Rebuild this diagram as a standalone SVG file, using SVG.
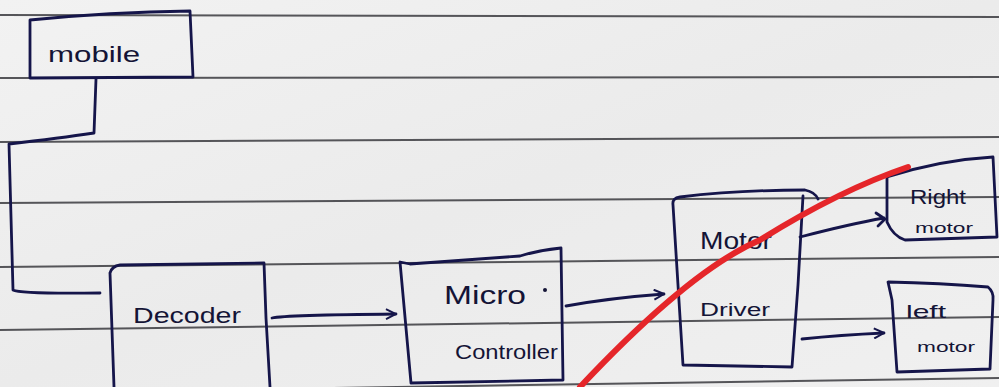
<svg xmlns="http://www.w3.org/2000/svg" width="999" height="387" viewBox="0 0 999 387">
  <style>
    .rule { stroke: #3a3a3e; stroke-width: 2; fill: none; opacity: 0.85; }
    .ink { stroke: #15154a; stroke-width: 2.8; fill: none; stroke-linecap: round; stroke-linejoin: round; }
    .label { font-family: "Liberation Sans", "DejaVu Sans", sans-serif; fill: #141436; }
    .red { stroke: #e5262a; stroke-width: 6; fill: none; stroke-linecap: round; }
  </style>
  <defs>
    <linearGradient id="paper" x1="0" y1="0" x2="1" y2="1">
      <stop offset="0" stop-color="#f2f2f2"/>
      <stop offset="0.5" stop-color="#ebebeb"/>
      <stop offset="1" stop-color="#f0f0f0"/>
    </linearGradient>
    <marker id="open" viewBox="0 0 12 12" refX="11" refY="6" markerWidth="12" markerHeight="12" markerUnits="userSpaceOnUse" orient="auto">
      <path d="M1,1 L11,6 L1,11" fill="none" stroke="#15154a" stroke-width="2"/>
    </marker>
  </defs>

  <!-- paper and ruled lines -->
  <rect width="999" height="387" fill="url(#paper)"/>
  <g id="rules">
    <path class="rule" d="M0,15 L999,17"/>
    <path class="rule" d="M0,78 L999,77"/>
    <path class="rule" d="M0,142 L999,137"/>
    <path class="rule" d="M0,203 L999,197"/>
    <path class="rule" d="M0,267 L999,257"/>
    <path class="rule" d="M0,330 L999,317"/>
    <path class="rule" d="M0,393 L999,378"/>
  </g>

  <!-- blocks -->
  <g id="mobile">
    <path class="ink" d="M30,20 Q110,12 190,11 L193,77 L30,78 Z"/>
    <text class="label" x="48" y="62" font-size="22" textLength="92" lengthAdjust="spacingAndGlyphs">mobile</text>
  </g>

  <g id="decoder">
    <path class="ink" d="M110,273 Q112,266 120,265 L264,263 L266,318 L270,387 M114,387 L110,273"/>
    <text class="label" x="133" y="323" font-size="22" textLength="108" lengthAdjust="spacingAndGlyphs">Decoder</text>
  </g>

  <g id="microcontroller">
    <path class="ink" d="M410,264 L520,256 Q540,250 561,248 L563,380 L411,383 L400,262 Z"/>
    <text class="label" x="444" y="304" font-size="25" textLength="82" lengthAdjust="spacingAndGlyphs">Micro</text>
    <circle cx="545" cy="290" r="2" fill="#141436"/>
    <text class="label" x="455" y="359" font-size="21" textLength="103" lengthAdjust="spacingAndGlyphs">Controller</text>
  </g>

  <g id="motor-driver">
    <path class="ink" d="M680,197 Q740,190 805,190 Q815,192 818,199 M803,196 L798,285 L792,367 L683,365 L673,205 Q672,198 680,197"/>
    <text class="label" x="700" y="249" font-size="24" textLength="72" lengthAdjust="spacingAndGlyphs">Motor</text>
    <text class="label" x="700" y="316" font-size="18" textLength="70" lengthAdjust="spacingAndGlyphs">Driver</text>
  </g>

  <g id="right-motor">
    <path class="ink" d="M887,177 Q940,160 993,157 L997,237 L905,240 Q893,236 887,222 Z"/>
    <text class="label" x="910" y="204" font-size="20" textLength="56" lengthAdjust="spacingAndGlyphs">Right</text>
    <text class="label" x="915" y="233" font-size="15" textLength="58" lengthAdjust="spacingAndGlyphs">motor</text>
  </g>

  <g id="left-motor">
    <path class="ink" d="M888,282 Q940,283 988,287 Q994,292 993,300 L990,369 L897,372 L892,300 Z"/>
    <text class="label" x="906" y="318" font-size="19" textLength="40" lengthAdjust="spacingAndGlyphs">left</text>
    <text class="label" x="917" y="352" font-size="15" textLength="58" lengthAdjust="spacingAndGlyphs">motor</text>
  </g>

  <!-- connectors -->
  <g id="connectors">
    <path class="ink" d="M96,79 L94,133 Q60,138 9,144 L13,290 Q20,294 100,293"/>
    <path class="ink" d="M272,318 Q285,315 396,314" marker-end="url(#open)"/>
    <path class="ink" d="M566,306 Q610,298 664,294" marker-end="url(#open)"/>
    <path class="ink" d="M800,237 Q850,224 884,218 M876,213 L885,219 L878,226"/>
    <path class="ink" d="M802,339 Q840,335 884,333" marker-end="url(#open)"/>
  </g>

  <!-- red pen stroke -->
  <path class="red" d="M580,387 Q690,270 760,240 Q840,190 908,167"/>
</svg>
